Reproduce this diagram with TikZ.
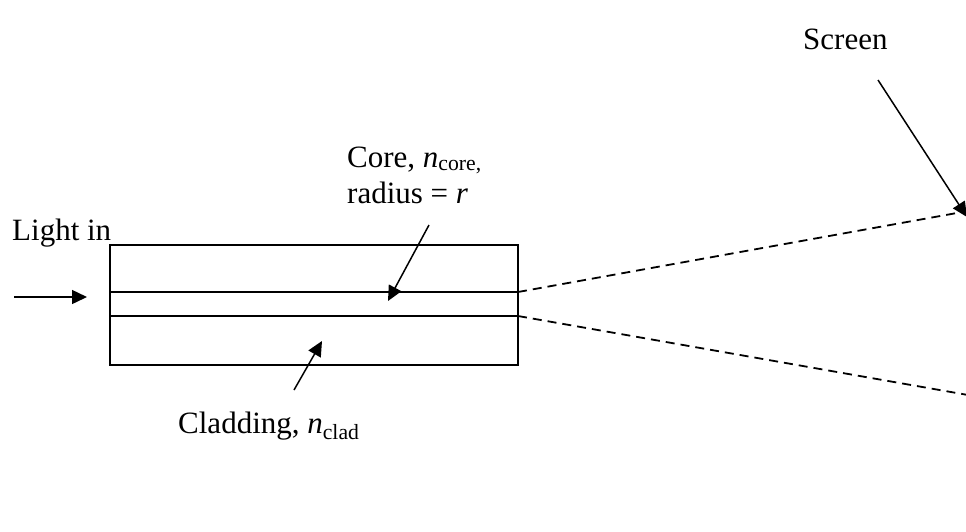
\documentclass[tikz,border=0pt]{standalone}
\usepackage{fontspec}
\setmainfont{Liberation Serif}
\usetikzlibrary{arrows.meta}
\begin{document}
\begin{tikzpicture}[x=1pt,y=-1pt,
  lbl/.style={inner sep=0pt,font=\fontsize{31}{36}\selectfont},
  solidline/.style={line width=1.8pt},
  pointer/.style={line width=1.5pt,-{Triangle[length=15pt,width=14pt]}},
  ray/.style={line width=1.8pt,dash pattern=on 9pt off 6pt}]
\useasboundingbox (0,0) rectangle (966,531);
\clip (0,0) rectangle (966,531);
% fibre
\draw[solidline] (110,245) rectangle (518,365);
\coordinate (c1w) at (110,292);
\coordinate (c1e) at (518,292);
\coordinate (c2w) at (110,316);
\coordinate (c2e) at (518,316);
\draw[solidline] (c1w) -- (c1e);
\draw[solidline] (c2w) -- (c2e);
% labels
\node[lbl,anchor=base west] (light) at (12,240) {Light in};
\node[lbl,anchor=base west] (screen) at (803,49) {Screen};
\node[lbl,anchor=base west] (clad) at (178,433) {Cladding, \textit{n}\textsubscript{clad}};
\node[lbl,anchor=base west] (core1) at (347,167) {Core, \textit{n}\textsubscript{core,}};
\node[lbl,anchor=base west] (core2) at (347,203) {radius = \textit{r}};
% arrows
\coordinate (inA) at (14,297);
\coordinate (inB) at (87,297);
\draw[pointer] (inA) -- (inB);
\coordinate (coreA) at (429,225);
\coordinate (coreB) at (388,301);
\draw[pointer] (coreA) -- (coreB);
\coordinate (cladA) at (294,390);
\coordinate (cladB) at (322,341);
\draw[pointer] (cladA) -- (cladB);
\coordinate (scrA) at (878,80);
\coordinate (scrB) at (967,217);
\draw[pointer] (scrA) -- (scrB);
% rays
\coordinate (r1) at (968,211);
\coordinate (r2) at (968,395);
\draw[ray] (c1e) -- (r1);
\draw[ray] (c2e) -- (r2);
\end{tikzpicture}
\end{document}
